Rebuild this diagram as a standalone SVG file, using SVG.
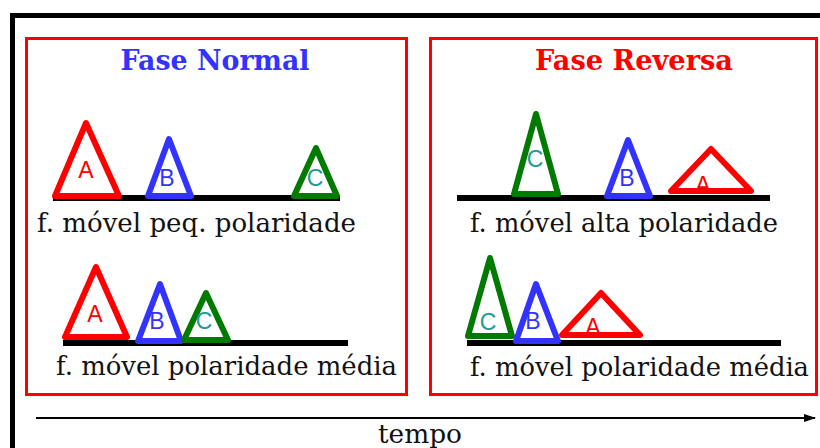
<svg xmlns="http://www.w3.org/2000/svg" width="820" height="448" viewBox="0 0 820 448">
<style>
.panel{fill:none;stroke:#ff0000;stroke-width:3}
.base{stroke:#000;stroke-width:6}
.tri{fill:#fff;stroke-width:6;stroke-linejoin:round}
.ra{stroke:#ff0000}.bb{stroke:#3333ff}.gc{stroke:#007a00}
.lbl{font-family:"Liberation Sans",Arial,sans-serif;font-size:23px;text-anchor:middle}
.la{fill:#ff0000}.lb{fill:#3333ff}.lc{fill:#229999}
.title{font-family:"DejaVu Serif","Liberation Serif",serif;font-weight:bold;font-size:28px;text-anchor:middle}
.cap{font-family:"DejaVu Serif","Liberation Serif",serif;font-size:26px;fill:#111}
</style>
<defs>
<marker id="arr" markerWidth="12" markerHeight="10" refX="11" refY="5" orient="auto" markerUnits="userSpaceOnUse">
<path d="M0,1 L12,5 L0,9 Z" fill="#000"/>
</marker>
</defs>
<rect width="820" height="448" fill="#fff"/>
<path d="M12.5,448 V15.5 H820" fill="none" stroke="#000" stroke-width="5"/>

<g id="fase-normal">
<rect class="panel" x="26.5" y="38.5" width="380" height="356"/>
<text class="title" x="215" y="70" fill="#3333ff" textLength="189" lengthAdjust="spacingAndGlyphs">Fase Normal</text>
</g>
<g id="fase-reversa">
<rect class="panel" x="430.5" y="38.5" width="386" height="356"/>
<text class="title" x="634" y="70" fill="#ff0000" textLength="198" lengthAdjust="spacingAndGlyphs">Fase Reversa</text>
</g>

<g id="normal-peq">
<line class="base" x1="53" y1="198" x2="340" y2="198"/>
<g id="n1-A"><polygon class="tri ra" points="86,123 119,196 55,196"/><text class="lbl la" x="86" y="178">A</text></g>
<g id="n1-B"><polygon class="tri bb" points="169,139 191,196 148,196"/><text class="lbl lb" x="167" y="186">B</text></g>
<g id="n1-C"><polygon class="tri gc" points="316,148 337,196 294,196"/><text class="lbl lc" x="315" y="186">C</text></g>
<text class="cap" x="37" y="232" textLength="319" lengthAdjust="spacingAndGlyphs">f. móvel peq. polaridade</text>
</g>

<g id="normal-media">
<line class="base" x1="63" y1="343" x2="348" y2="343"/>
<g id="n2-A"><polygon class="tri ra" points="96,267 127,337 65,337"/><text class="lbl la" x="95" y="322">A</text></g>
<g id="n2-B"><polygon class="tri bb" points="160,284 181,341 138,341"/><text class="lbl lb" x="157" y="329">B</text></g>
<g id="n2-C"><polygon class="tri gc" points="206,293 228,340 184,340"/><text class="lbl lc" x="204" y="329">C</text></g>
<text class="cap" x="56" y="375" textLength="341" lengthAdjust="spacingAndGlyphs">f. móvel polaridade média</text>
</g>

<g id="reversa-alta">
<line class="base" x1="457" y1="198" x2="770" y2="198"/>
<g id="r1-C"><polygon class="tri gc" points="536,114 558,194 514,194"/><text class="lbl lc" x="535" y="167">C</text></g>
<g id="r1-B"><polygon class="tri bb" points="628,140 650,196 607,196"/><text class="lbl lb" x="627" y="186">B</text></g>
<g id="r1-A"><polygon class="tri ra" points="711,149 751,191 671,191"/><text class="lbl la" x="703" y="193">A</text></g>
<text class="cap" x="470" y="232" textLength="308" lengthAdjust="spacingAndGlyphs">f. móvel alta polaridade</text>
</g>

<g id="reversa-media">
<line class="base" x1="467" y1="343" x2="781" y2="343"/>
<g id="r2-C"><polygon class="tri gc" points="490,258 512,336 468,336"/><text class="lbl lc" x="488" y="330">C</text></g>
<g id="r2-B"><polygon class="tri bb" points="536,284 558,341 516,341"/><text class="lbl lb" x="533" y="329">B</text></g>
<g id="r2-A"><polygon class="tri ra" points="601,293 640,335 562,335"/><text class="lbl la" x="593" y="335">A</text></g>
<text class="cap" x="470" y="376" textLength="339" lengthAdjust="spacingAndGlyphs">f. móvel polaridade média</text>
</g>

<g id="connectors">
<line x1="36" y1="418" x2="815" y2="418" stroke="#000" stroke-width="2" marker-end="url(#arr)"/>
</g>
<g id="tempo"><text class="cap" x="420" y="443" text-anchor="middle" textLength="84" lengthAdjust="spacingAndGlyphs">tempo</text></g>
</svg>
